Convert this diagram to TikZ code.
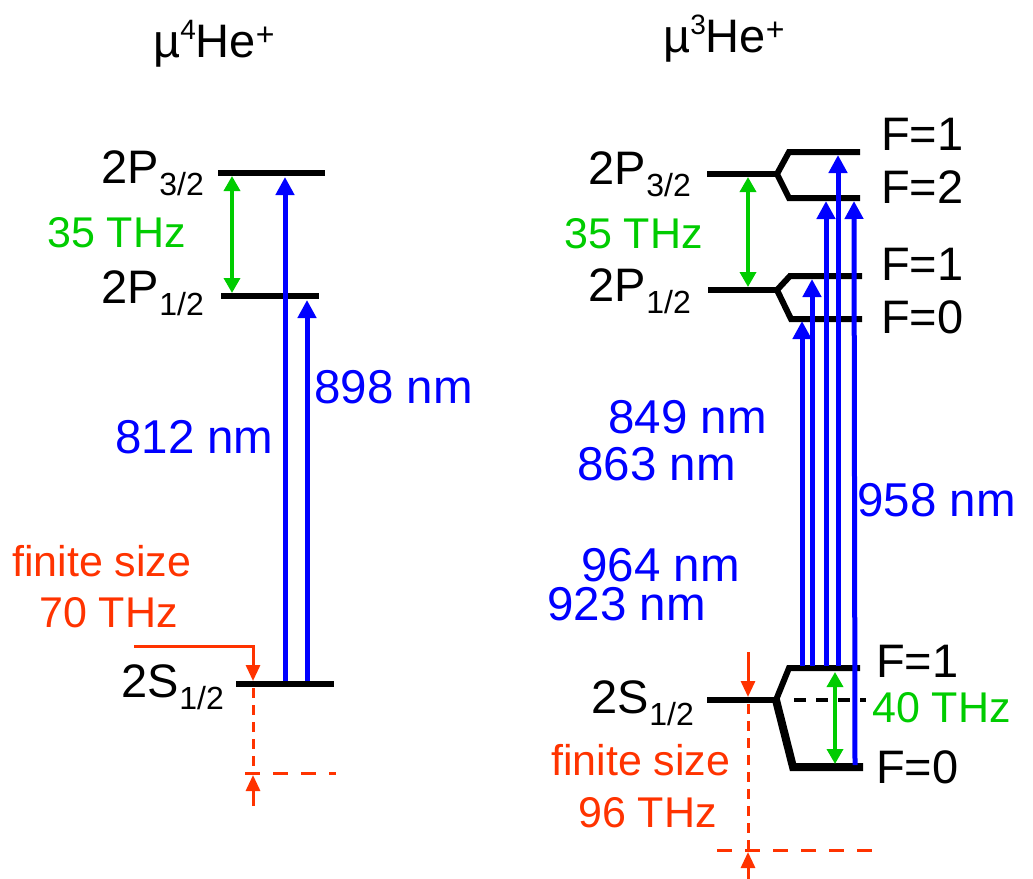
\documentclass[tikz,border=0pt]{standalone}
\usepackage{fontspec}
\setmainfont{Liberation Sans}
\usetikzlibrary{arrows.meta}
\definecolor{myblue}{RGB}{0,0,255}
\definecolor{mygreen}{RGB}{0,204,0}
\definecolor{myred}{RGB}{255,51,0}
\newcommand{\bigf}{\fontsize{47}{50}\selectfont}
\newcommand{\subf}{\fontsize{32}{34}\selectfont}
\newcommand{\lv}[2]{#1\raisebox{-12pt}{\subf #2}}
\newcommand{\spd}[1]{\raisebox{18pt}{\fontsize{28}{30}\selectfont #1}}
\newcommand{\spp}[1]{\raisebox{12pt}{\fontsize{32}{34}\selectfont #1}}
\begin{document}
\begin{tikzpicture}[x=1pt,y=-1pt,
 level/.style={line width=6pt},
 bluearr/.style={myblue,line width=5pt,-{Triangle[width=18pt,length=18pt]}},
 greenarr/.style={mygreen,line width=3.5pt,{Triangle[width=16pt,length=15pt]}-{Triangle[width=16pt,length=15pt]}},
 redarr/.style={myred,line width=3pt,-{Triangle[width=14pt,length=16pt]}},
 reddashv/.style={myred,line width=3pt,dash pattern=on 10pt off 7pt},
 reddashh/.style={myred,line width=3pt,dash pattern=on 15pt off 13pt},
 txt/.style={inner sep=0pt,font=\bigf},
 bluetxt/.style={inner sep=0pt,font=\fontsize{47.5}{50}\selectfont,text=myblue},
 greentxt/.style={inner sep=0pt,font=\fontsize{43}{46}\selectfont,text=mygreen},
 redtxt/.style={inner sep=0pt,font=\fontsize{43}{46}\selectfont,text=myred},
]
\useasboundingbox (0,0) rectangle (1033,878);

% ---------------- left: mu 4He+ ----------------
\node[txt,anchor=base west] (t1) at (153,57) {µ\spd{4}He\spp{+}};

\coordinate (a3l) at (218,173); \coordinate (a3r) at (325,173);
\coordinate (a1l) at (221,296); \coordinate (a1r) at (319,296);
\coordinate (asl) at (236,684); \coordinate (asr) at (334,684);
\draw[level] (a3l) -- (a3r);
\draw[level] (a1l) -- (a1r);
\draw[level] (asl) -- (asr);

\node[txt,anchor=base east] (la3) at (204,183) {\lv{2P}{3/2}};
\node[txt,anchor=base east] (la1) at (204,303) {\lv{2P}{1/2}};
\node[txt,anchor=base east] (las) at (224,697) {\lv{2S}{1/2}};

\coordinate (ga) at (232,176); \coordinate (gb) at (232,293);
\draw[greenarr] (ga) -- (gb);
\node[greentxt,anchor=base west] (g35a) at (47,247) {35 THz};

\coordinate (b1s) at (285,681); \coordinate (b1e) at (285,177);
\coordinate (b2s) at (307,681); \coordinate (b2e) at (307,300);
\draw[bluearr] (b1s) -- (b1e);
\draw[bluearr] (b2s) -- (b2e);
\node[bluetxt,anchor=base west] (w898) at (314,403) {898 nm};
\node[bluetxt,anchor=base west] (w812) at (115,453) {812 nm};

\node[redtxt,anchor=base west] (fsa) at (12,576) {finite size};
\node[redtxt,anchor=base west] (f70) at (39,627) {70 THz};
\coordinate (ra) at (134,646); \coordinate (rb) at (253,646); \coordinate (rc) at (253,681);
\draw[redarr] (ra) -- (rb) -- (rc);
\coordinate (rd) at (253,688); \coordinate (re) at (253,773);
\draw[reddashv] (rd) -- (re);
\coordinate (rf) at (245,773); \coordinate (rg) at (336,773);
\draw[reddashh] (rf) -- (rg);
\coordinate (rh) at (253,806); \coordinate (ri) at (253,775);
\draw[redarr] (rh) -- (ri);

% ---------------- right: mu 3He+ ----------------
\node[txt,anchor=base west] (t2) at (663,52) {µ\spd{3}He\spp{+}};

% 2P3/2
\coordinate (p3a) at (707,174); \coordinate (p3b) at (777,174);
\coordinate (p3c) at (789,152); \coordinate (p3d) at (860,152);
\coordinate (p3e) at (789,198); \coordinate (p3f) at (860,198);
\draw[level,line join=miter] (p3d) -- (p3c) -- (p3b) -- (p3e) -- (p3f);
\draw[level] (p3a) -- (p3b);
% 2P1/2
\coordinate (p1a) at (708,290); \coordinate (p1b) at (777,290);
\coordinate (p1c) at (790,276); \coordinate (p1d) at (862,276);
\coordinate (p1e) at (791,319); \coordinate (p1f) at (862,319);
\draw[level,line join=miter] (p1d) -- (p1c) -- (p1b) -- (p1e) -- (p1f);
\draw[level] (p1a) -- (p1b);
% 2S1/2
\coordinate (s1a) at (707,700); \coordinate (s1b) at (776,700);
\coordinate (s1c) at (789,668); \coordinate (s1d) at (860,668);
\coordinate (s1e) at (793,767); \coordinate (s1f) at (863,767);
\draw[level,line join=miter] (s1d) -- (s1c) -- (s1b);
\draw[line width=8pt,line join=miter] (s1b) -- (s1e) -- (s1f);
\draw[level] (s1a) -- (s1b);
\coordinate (dsa) at (794,700); \coordinate (dsb) at (866,700);
\draw[line width=4pt,dash pattern=on 12pt off 10pt] (dsa) -- (dsb);

\node[txt,anchor=base east] (lb3) at (691,184) {\lv{2P}{3/2}};
\node[txt,anchor=base east] (lb1) at (691,301) {\lv{2P}{1/2}};
\node[txt,anchor=base east] (lbs) at (694,713) {\lv{2S}{1/2}};

\node[txt,anchor=base west] (F1a) at (881,150) {F=1};
\node[txt,anchor=base west] (F2a) at (881,203) {F=2};
\node[txt,anchor=base west] (F1b) at (881,280) {F=1};
\node[txt,anchor=base west] (F0b) at (881,333) {F=0};
\node[txt,anchor=base west] (F1c) at (876,677) {F=1};
\node[txt,anchor=base west] (F0c) at (876,783) {F=0};

\coordinate (gc) at (748,177); \coordinate (gd) at (748,287);
\draw[greenarr] (gc) -- (gd);
\node[greentxt,anchor=base west] (g35b) at (564,248) {35 THz};
\coordinate (ge) at (835,672); \coordinate (gf) at (835,764);
\draw[greenarr] (ge) -- (gf);
\node[greentxt,anchor=base west] (g40) at (872,722) {40 THz};

\coordinate (c1s) at (802,666); \coordinate (c1e) at (802,321);
\coordinate (c2s) at (812,666); \coordinate (c2e) at (812,279);
\coordinate (c3s) at (826,666); \coordinate (c3e) at (826,201);
\coordinate (c4s) at (838,666); \coordinate (c4e) at (838,155);
\coordinate (c5s) at (855,765); \coordinate (c5e) at (854,201);
\draw[bluearr] (c1s) -- (c1e);
\draw[bluearr] (c2s) -- (c2e);
\draw[bluearr] (c3s) -- (c3e);
\draw[bluearr] (c4s) -- (c4e);
\draw[bluearr] (c5s) -- (c5e);

\node[bluetxt,anchor=base west] (w849) at (608,433) {849 nm};
\node[bluetxt,anchor=base west] (w863) at (577,480) {863 nm};
\node[bluetxt,anchor=base west] (w958) at (857,516) {958 nm};
\node[bluetxt,anchor=base west] (w964) at (581,581) {964 nm};
\node[bluetxt,anchor=base west] (w923) at (547,620) {923 nm};

\node[redtxt,anchor=base west] (fsb) at (551,775) {finite size};
\node[redtxt,anchor=base west] (f96) at (578,827) {96 THz};
\coordinate (rj) at (748,652); \coordinate (rk) at (748,697);
\draw[redarr] (rj) -- (rk);
\coordinate (rl) at (748,704); \coordinate (rm) at (748,850);
\draw[reddashv] (rl) -- (rm);
\coordinate (rn) at (717,850); \coordinate (ro) at (874,850);
\draw[reddashh] (rn) -- (ro);
\coordinate (rp) at (748,880); \coordinate (rq) at (748,852);
\draw[redarr] (rp) -- (rq);
\end{tikzpicture}
\end{document}
